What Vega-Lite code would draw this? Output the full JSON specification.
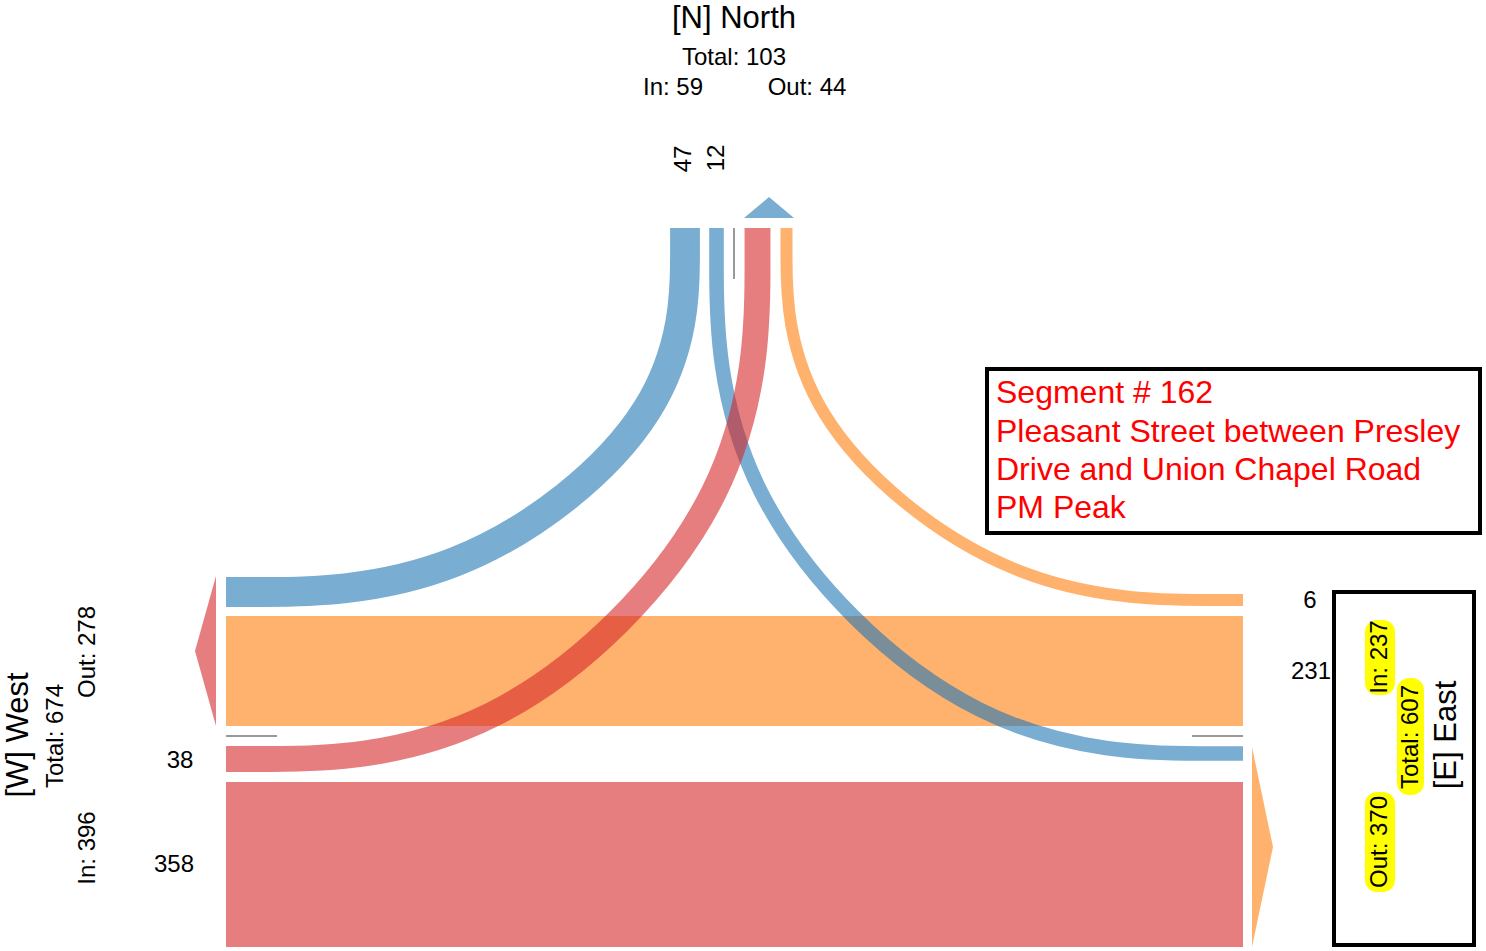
{
  "$schema": "https://vega.github.io/schema/vega-lite/v6.json",
  "width": 1486,
  "height": 951,
  "autosize": {"type": "none"},
  "padding": 0,
  "background": "white",
  "config": {"view": {"stroke": null}, "text": {"font": "Liberation Sans"}},
  "datasets": {
    "bands": [
      {"flow": "E-W", "from": "E", "volume": 231, "i": 0, "x": 1243, "y": 671},
      {"flow": "E-W", "from": "E", "volume": 231, "i": 1, "x": 226, "y": 671},
      {"flow": "W-E", "from": "W", "volume": 358, "i": 0, "x": 226, "y": 864.5},
      {"flow": "W-E", "from": "W", "volume": 358, "i": 1, "x": 1243, "y": 864.5}
    ],
    "curves": [
      {"flow": "N-W", "from": "N", "volume": 47, "i": 0, "x": 685, "y": 228},
      {"flow": "N-W", "from": "N", "volume": 47, "i": 1, "x": 685, "y": 410},
      {"flow": "N-W", "from": "N", "volume": 47, "i": 2, "x": 455.5, "y": 592},
      {"flow": "N-W", "from": "N", "volume": 47, "i": 3, "x": 226, "y": 592},
      {"flow": "N-E", "from": "N", "volume": 12, "i": 0, "x": 716.5, "y": 228},
      {"flow": "N-E", "from": "N", "volume": 12, "i": 1, "x": 716.5, "y": 491},
      {"flow": "N-E", "from": "N", "volume": 12, "i": 2, "x": 980, "y": 753.5},
      {"flow": "N-E", "from": "N", "volume": 12, "i": 3, "x": 1243, "y": 753.5},
      {"flow": "W-N", "from": "W", "volume": 38, "i": 0, "x": 226, "y": 759},
      {"flow": "W-N", "from": "W", "volume": 38, "i": 1, "x": 492, "y": 759},
      {"flow": "W-N", "from": "W", "volume": 38, "i": 2, "x": 757.5, "y": 493.5},
      {"flow": "W-N", "from": "W", "volume": 38, "i": 3, "x": 757.5, "y": 228},
      {"flow": "E-N", "from": "E", "volume": 6, "i": 0, "x": 1243, "y": 600},
      {"flow": "E-N", "from": "E", "volume": 6, "i": 1, "x": 1015, "y": 600},
      {"flow": "E-N", "from": "E", "volume": 6, "i": 2, "x": 786.5, "y": 414},
      {"flow": "E-N", "from": "E", "volume": 6, "i": 3, "x": 786.5, "y": 228}
    ],
    "ticks": [
      {"x": 226, "x2": 277, "y": 736, "y2": 736},
      {"x": 1192, "x2": 1243, "y": 736, "y2": 736},
      {"x": 734, "x2": 734, "y": 228, "y2": 279}
    ],
    "arrows": [
      {"dir": "W", "x": 216, "y": 651},
      {"dir": "E", "x": 1252, "y": 847},
      {"dir": "N", "x": 769, "y": 218}
    ],
    "boxes": [
      {"box": "title", "x": 987, "x2": 1480, "y": 369, "y2": 533},
      {"box": "east", "x": 1334, "x2": 1474, "y": 592, "y2": 945}
    ],
    "highlights": [
      {"x": 1365, "x2": 1395, "y": 620, "y2": 695},
      {"x": 1397, "x2": 1424, "y": 678, "y2": 795},
      {"x": 1365, "x2": 1395, "y": 792, "y2": 892}
    ],
    "headers": [
      {"text": "[N] North", "x": 734, "y": 19, "angle": 0},
      {"text": "[W] West", "x": 19, "y": 735, "angle": 270},
      {"text": "[E] East", "x": 1447, "y": 735, "angle": 270}
    ],
    "subs": [
      {"text": "Total: 103", "x": 734, "y": 58, "angle": 0},
      {"text": "In: 59", "x": 673, "y": 88, "angle": 0},
      {"text": "Out: 44", "x": 807, "y": 88, "angle": 0},
      {"text": "Total: 674", "x": 56, "y": 736, "angle": 270},
      {"text": "Out: 278", "x": 88, "y": 652, "angle": 270},
      {"text": "In: 396", "x": 88, "y": 848, "angle": 270},
      {"text": "Total: 607", "x": 1411, "y": 737, "angle": 270},
      {"text": "In: 237", "x": 1380, "y": 657, "angle": 270},
      {"text": "Out: 370", "x": 1380, "y": 842, "angle": 270},
      {"text": "47", "x": 684, "y": 159, "angle": 270},
      {"text": "12", "x": 717, "y": 158, "angle": 270},
      {"text": "38", "x": 180, "y": 761, "angle": 0},
      {"text": "358", "x": 174, "y": 865, "angle": 0},
      {"text": "6", "x": 1310, "y": 601, "angle": 0},
      {"text": "231", "x": 1311, "y": 672, "angle": 0}
    ],
    "title": [
      {"text": "Segment # 162", "x": 996, "y": 403},
      {"text": "Pleasant Street between Presley", "x": 996, "y": 442},
      {"text": "Drive and Union Chapel Road", "x": 996, "y": 480},
      {"text": "PM Peak", "x": 996, "y": 518}
    ]
  },
  "encoding": {
    "x": {"field": "x", "type": "quantitative", "scale": {"domain": [0, 1486], "nice": false, "zero": false}, "axis": null},
    "y": {"field": "y", "type": "quantitative", "scale": {"domain": [0, 951], "nice": false, "zero": false, "reverse": true}, "axis": null}
  },
  "layer": [
    {
      "data": {"name": "bands"},
      "mark": {"type": "line", "strokeCap": "butt", "opacity": 0.6},
      "encoding": {
        "detail": {"field": "flow"},
        "order": {"field": "i", "type": "quantitative"},
        "color": {"field": "from", "type": "nominal", "scale": {"domain": ["N", "W", "E"], "range": ["#1f77b4", "#d62728", "#ff7f0e"]}, "legend": null},
        "strokeWidth": {"field": "volume", "type": "quantitative", "scale": {"domain": [6, 358], "range": [12, 165], "zero": false}, "legend": null}
      }
    },
    {
      "data": {"name": "curves"},
      "mark": {"type": "line", "strokeCap": "butt", "interpolate": "basis", "opacity": 0.6},
      "encoding": {
        "detail": {"field": "flow"},
        "order": {"field": "i", "type": "quantitative"},
        "color": {"field": "from", "type": "nominal", "scale": {"domain": ["N", "W", "E"], "range": ["#1f77b4", "#d62728", "#ff7f0e"]}, "legend": null},
        "strokeWidth": {"field": "volume", "type": "quantitative", "scale": {"domain": [6, 358], "range": [12, 165], "zero": false}, "legend": null}
      }
    },
    {
      "data": {"name": "ticks"},
      "mark": {"type": "rule", "color": "#999999", "strokeWidth": 2},
      "encoding": {
        "x2": {"field": "x2"},
        "y2": {"field": "y2"}
      }
    },
    {
      "data": {"name": "arrows"},
      "mark": {"type": "point", "filled": true, "opacity": 0.6, "size": 4, "strokeWidth": 0},
      "encoding": {
        "shape": {"field": "dir", "type": "nominal", "scale": {"domain": ["W", "E", "N"], "range": ["M -21 0 L 0 -75 L 0 75 Z", "M 21 0 L 0 -100 L 0 100 Z", "M 0 -21 L -25 0 L 25 0 Z"]}, "legend": null},
        "color": {"field": "dir", "type": "nominal", "scale": {"domain": ["N", "W", "E"], "range": ["#1f77b4", "#d62728", "#ff7f0e"]}, "legend": null}
      }
    },
    {
      "data": {"name": "boxes"},
      "mark": {"type": "rect", "fill": "white", "stroke": "black", "strokeWidth": 4},
      "encoding": {
        "x2": {"field": "x2"},
        "y2": {"field": "y2"}
      }
    },
    {
      "data": {"name": "highlights"},
      "mark": {"type": "rect", "fill": "#ffff00", "cornerRadius": 12},
      "encoding": {
        "x2": {"field": "x2"},
        "y2": {"field": "y2"}
      }
    },
    {
      "data": {"name": "headers"},
      "mark": {"type": "text", "fontSize": 31, "color": "black", "align": "center", "baseline": "middle"},
      "encoding": {
        "text": {"field": "text"},
        "angle": {"field": "angle", "type": "quantitative", "scale": null}
      }
    },
    {
      "data": {"name": "subs"},
      "mark": {"type": "text", "fontSize": 24, "color": "black", "align": "center", "baseline": "middle"},
      "encoding": {
        "text": {"field": "text"},
        "angle": {"field": "angle", "type": "quantitative", "scale": null}
      }
    },
    {
      "data": {"name": "title"},
      "mark": {"type": "text", "fontSize": 32, "color": "#ff0000", "align": "left", "baseline": "alphabetic"},
      "encoding": {
        "text": {"field": "text"}
      }
    }
  ]
}
